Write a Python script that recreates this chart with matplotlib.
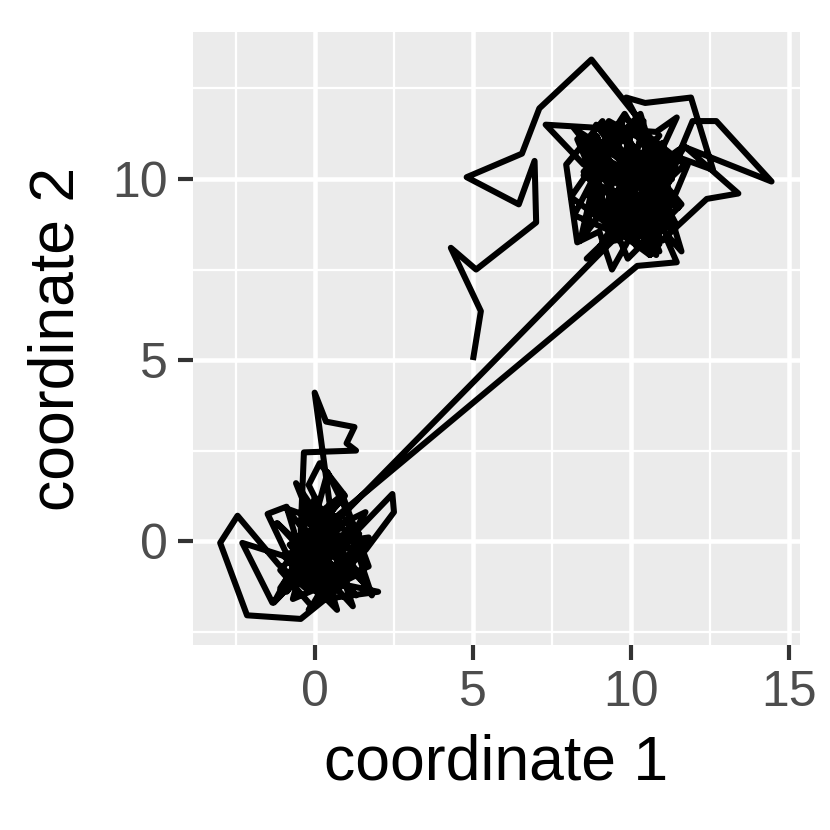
import matplotlib
matplotlib.use("Agg")
import matplotlib.pyplot as plt
import numpy as np

# path: start at (5, 5), walk into the upper cluster,
# jump to the lower cluster, then jump back up
start_x = [5.0, 5.25, 4.3, 5.1, 7.0, 6.95, 6.45, 4.8, 6.55, 7.1]
start_y = [5.0, 6.35, 8.1, 7.5, 8.8, 10.5, 9.3, 10.05, 10.7, 11.95]

upper1_x = [8.75, 10.2, 9.6, 10.5, 9.3, 10.1, 11.3, 10.6, 9.85, 10.45, 11.9, 12.6,
            11.5, 10.8, 9.5, 8.9, 9.0, 10.2, 11.2, 10.3, 9.7, 8.5, 7.3, 9.2, 10.8,
            11.45, 10.6, 9.8, 10.6, 9.9, 10.9, 11.95, 12.7, 14.45, 11.65, 10.4, 9.6,
            8.2, 11.0, 8.5, 10.3, 11.6, 9.0, 8.4, 10.9, 8.9, 11.4, 9.7, 8.1, 10.6,
            11.8, 9.3, 8.6, 11.0, 9.0, 11.3, 8.3, 9.9, 11.6, 9.6, 8.7, 10.9,
            8.6, 9.3, 10.5, 9.25]
upper1_y = [13.3, 11.7, 10.2, 9.6, 8.8, 9.1, 10.0, 11.0, 12.25, 12.1, 12.25, 10.25,
            10.6, 9.0, 9.5, 10.8, 9.2, 8.4, 8.9, 10.1, 11.3, 10.4, 11.5, 11.4, 11.3,
            11.7, 10.1, 8.7, 7.9, 9.6, 9.4, 11.6, 11.6, 9.93, 10.9, 9.9, 10.6,
            11.4, 8.3, 10.2, 11.8, 8.0, 10.6, 8.3, 11.2, 9.4, 8.6, 11.5, 9.5, 7.9,
            10.4, 11.6, 8.6, 11.0, 8.1, 10.2, 11.1, 7.8, 9.3, 11.4, 9.2, 8.2,
            9.6, 8.9, 9.2, 8.15]

lower_x = [0.4, -0.2, 0.6, 1.2, 0.1, -0.5, -0.9, -1.5, -0.6, 0.3, 2.0, 0.9, -0.45,
           -2.15, -3.0, -2.45, -1.15, -0.3, 0.2, 0.7, -0.2, 0.5, -0.01, 0.35, 1.25,
           1.0, 1.3, -0.35, -0.45, 0.4, -0.1, 0.95, 0.15, -0.2, 0.8, 2.45, 2.5, 1.6,
           0.6, -0.7, 0.0, 0.9, -1.35, -2.3, -0.3, 0.5, 1.4, 0.2, -0.6, 0.4, 1.0,
           -0.9, 1.3, -0.5, 1.6, -0.1, -1.1, 0.9, 1.7, -0.7, 0.4, 1.3, -1.0, 0.7,
           -0.3, 1.6, 0.2, -0.9, 1.0, 1.8, -0.6, 0.6, -1.2, 1.2, 0.0, -0.8, 1.4,
           0.4, -0.4, 0.9, -1.1, 1.3, -0.2, 1.7, -0.7, 0.6,
           -0.1, 0.6, -0.9, 0.3, 1.1, -0.4, 0.7, 0.0, -1.3, -0.5, 0.5, 1.0, 0.2,
           -0.8, 0.3]
lower_y = [0.3, -0.5, -1.0, -0.3, 0.6, -0.2, 0.95, 0.75, -0.9, -1.6, -1.4, -1.2,
           -2.15, -2.05, -0.05, 0.7, -0.65, -1.3, 0.1, -0.4, 0.5, 0.8, 4.1, 3.3,
           3.15, 2.7, 2.5, 2.45, 0.3, -0.8, 0.2, 1.25, 2.15, 1.55, -0.2, 1.3, 0.8,
           -0.25, -0.7, 0.2, -1.1, 0.1, -1.7, -0.05, -0.6, -1.3, -0.9, 0.4, -0.3,
           -1.5, 0.3,
           0.9, -1.5, -0.1, 0.8, -1.8, -0.8, 1.2, -0.7, -1.6, 1.9, 0.3, -0.4,
           -1.9, 1.0, -1.2, 0.0, -1.4, 0.6, -1.5, 1.6, -1.0, 0.5, -1.8, 1.2,
           -0.6, 0.2, -1.6, 0.4, 1.3, -1.3, -0.5, -1.9, 0.1, -0.2, -1.1,
           -0.9, 0.7, -0.6, -0.2, -0.8, 0.4, -1.2, -0.5, -1.7, -0.4,
           0.2, -0.9, -1.1, -0.1, 0.4]

upper2_x = [10.2, 11.45, 11.1, 12.4, 13.4, 11.7, 10.3, 9.4, 9.0, 8.3, 7.95, 9.1,
            10.0, 9.4, 10.7, 9.8, 8.6, 9.5, 10.4, 11.0, 9.7, 8.9, 10.3, 10.9, 9.6,
            10.1, 11.4, 10.5, 9.3, 10.2, 9.9, 10.8, 9.5, 10.6, 11.0, 9.8,
            8.9, 11.5, 8.4, 10.6, 9.1, 11.2, 8.6, 11.7, 9.8, 8.2, 10.9, 9.4,
            11.3, 8.5, 10.4, 9.6, 11.5, 8.8, 10.8, 9.3, 11.1, 9.9]
upper2_y = [7.6, 7.7, 8.4, 9.45, 9.6, 10.9, 8.9, 7.5, 8.55, 8.25, 10.4, 11.6,
            9.8, 9.0, 10.5, 11.8, 10.2, 8.3, 9.2, 10.6, 9.9, 11.2, 8.7, 9.7, 10.8,
            9.3, 8.8, 10.3, 9.5, 8.1, 10.9, 9.6, 9.1, 8.5, 9.9, 10.4,
            11.5, 9.2, 11.0, 8.1, 10.9, 9.5, 7.8, 10.4, 11.7, 9.0, 8.0, 11.2,
            8.6, 10.1, 11.6, 8.3, 10.8, 9.1, 7.9, 10.5, 9.7, 8.6]

xs = start_x + upper1_x + lower_x + upper2_x
ys = start_y + upper1_y + lower_y + upper2_y

plt.rcParams['font.family'] = ['Liberation Sans', 'DejaVu Sans']

fig = plt.figure(figsize=(830 / 300, 830 / 300), dpi=300)
ax = fig.add_axes([193 / 830, 185 / 830, 607 / 830, 613 / 830])
ax.set_facecolor('#EBEBEB')

ax.plot(xs, ys, color='black', lw=1.45, solid_joinstyle='round',
        solid_capstyle='butt', zorder=3)

ax.set_xlim(-3.86, 15.35)
ax.set_ylim(-2.87, 14.06)
ax.set_xticks([0, 5, 10, 15])
ax.set_yticks([0, 5, 10])
ax.set_xticks([-2.5, 2.5, 7.5, 12.5], minor=True)
ax.set_yticks([-2.5, 2.5, 7.5, 12.5], minor=True)
ax.grid(which='major', color='white', lw=1.1)
ax.grid(which='minor', color='white', lw=0.55)
ax.set_axisbelow(True)
for s in ax.spines.values():
    s.set_visible(False)

ax.tick_params(which='major', length=3.6, width=1.0, color='#333333',
               labelcolor='#4D4D4D', labelsize=12.0, pad=2.5)
ax.tick_params(which='minor', length=0)

ax.set_xlabel('coordinate 1', fontsize=15.0, color='black', labelpad=4)
ax.set_ylabel('coordinate 2', fontsize=15.0, color='black', labelpad=6)

fig.savefig('out.png', dpi=300)
